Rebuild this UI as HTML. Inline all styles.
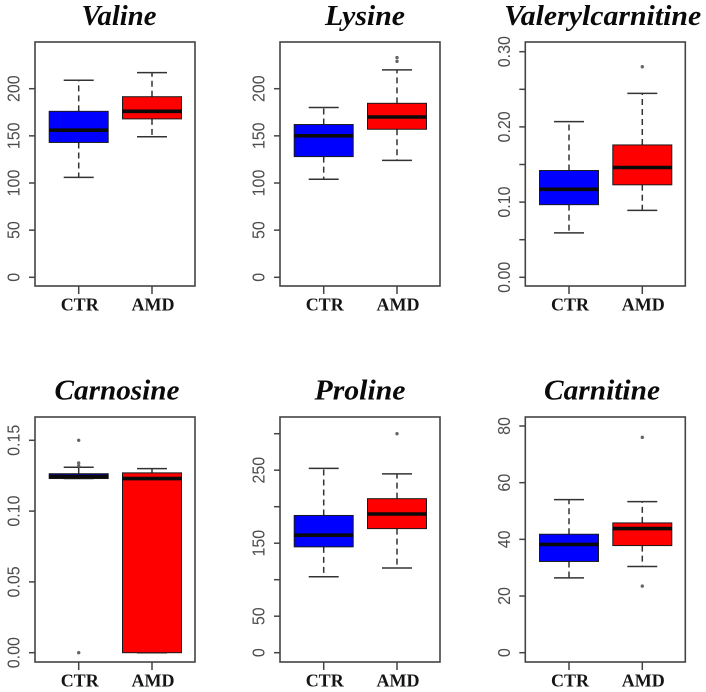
<!DOCTYPE html>
<html lang="en">
<head>
<meta charset="utf-8">
<title>Metabolite boxplots</title>
<style>
html,body{margin:0;padding:0;background:#fff;width:706px;height:692px;overflow:hidden}
svg{display:block;filter:blur(0.35px)}
.tick-label{font:16px "Liberation Sans",sans-serif;fill:#4d4d4d}
.cat-label{font:bold 18px "Liberation Serif",serif;fill:#151515;text-anchor:middle}
.title{font:italic bold 28px "Liberation Serif",serif;fill:#0a0a0a;text-anchor:middle}
</style>
</head>
<body>
<svg id="chart" xmlns="http://www.w3.org/2000/svg" width="706" height="692" viewBox="0 0 706 692"></svg>
<script>
// ---- data: [lower whisker, Q1, median, Q3, upper whisker] ----
const categories = ['CTR', 'AMD'];
const metabolites = ['Valine', 'Lysine', 'Valerylcarnitine', 'Carnosine', 'Proline', 'Carnitine'];

const valineCTR = [106, 143, 156, 176, 209];
const valineAMD = [149, 168, 176, 191.5, 217];
const lysineCTR = [104, 128, 150, 162, 180];
const lysineAMD = [124, 157, 170, 184.5, 220];
const valerylCTR = [0.059, 0.0966, 0.117, 0.142, 0.207];
const valerylAMD = [0.089, 0.123, 0.146, 0.176, 0.2446];
const carnosineCTR = [0.123, 0.123, 0.1245, 0.1264, 0.131];
const carnosineAMD = [0, 0, 0.123, 0.127, 0.130];
const prolineCTR = [104, 145, 161, 188, 252.5];
const prolineAMD = [116, 170, 190, 211, 245];
const carnitineCTR = [26.4, 32.2, 38.2, 41.8, 54];
const carnitineAMD = [30.4, 37.8, 43.8, 45.8, 53.3];

const valineOutliers = [[], []];
const lysineOutliers = [[], [229, 233]];
const valerylOutliers = [[], [0.28]];
const carnosineOutliers = [[0, 0.132, 0.134, 0.15], []];
const prolineOutliers = [[], [300]];
const carnitineOutliers = [[], [23.5, 76]];

const valineTicks = [0, 50, 100, 150, 200];
const lysineTicks = [0, 50, 100, 150, 200];
const valerylTicks = [0, 0.05, 0.10, 0.15, 0.20, 0.25, 0.30];
const carnosineTicks = [0, 0.05, 0.10, 0.15];
const prolineTicks = [0, 50, 100, 150, 200, 250, 300];
const carnitineTicks = [0, 20, 40, 60, 80];

const valineTickLabels = ['0', '50', '100', '150', '200'];
const lysineTickLabels = ['0', '50', '100', '150', '200'];
const valerylTickLabels = ['0.00', '', '0.10', '', '0.20', '', '0.30'];
const carnosineTickLabels = ['0.00', '0.05', '0.10', '0.15'];
const prolineTickLabels = ['0', '50', '', '150', '', '250', ''];
const carnitineTickLabels = ['0', '20', '40', '60', '80'];

const seriesByPanel = [
  [valineCTR, valineAMD], [lysineCTR, lysineAMD], [valerylCTR, valerylAMD],
  [carnosineCTR, carnosineAMD], [prolineCTR, prolineAMD], [carnitineCTR, carnitineAMD]
];
const outliersByPanel = [valineOutliers, lysineOutliers, valerylOutliers, carnosineOutliers, prolineOutliers, carnitineOutliers];
const ticksByPanel = [valineTicks, lysineTicks, valerylTicks, carnosineTicks, prolineTicks, carnitineTicks];
const tickLabelsByPanel = [valineTickLabels, lysineTickLabels, valerylTickLabels, carnosineTickLabels, prolineTickLabels, carnitineTickLabels];

// ---- layout (pixel geometry, separate from the data) ----
const frameX = [35, 280, 525.3, 35, 280, 525.3];
const frameTop = [42, 42, 42, 417, 417, 417];
const frameBottom = [286, 286, 286, 662, 662, 662];
const zeroY = [277.3, 277.3, 277.3, 652.7, 652.7, 652.7];
const axisTopValue = [200, 200, 0.30, 0.15, 300, 80];
const axisTopY = [88.7, 88.7, 51.7, 440.3, 433.7, 426];
const titleCenter = [119, 365, 602.7, 117, 360, 602];
const titleWidth = [75, 80, 197, 125, 91, 116];
const titleBaseline = [25, 25, 25, 399.3, 399.3, 399.3];
const frameW = 160;

const svg = document.getElementById('chart');
const NS = 'http://www.w3.org/2000/svg';

function make(tag, attrs, parent, text) {
  const el = document.createElementNS(NS, tag);
  for (const k in attrs) el.setAttribute(k, attrs[k]);
  if (text !== undefined) el.textContent = text;
  parent.appendChild(el);
  return el;
}
function yScale(p) {
  const k = (zeroY[p] - axisTopY[p]) / axisTopValue[p];
  return v => zeroY[p] - v * k;
}
function xScale(p) {
  return i => frameX[p] + 43.7 + i * 73.3;
}

metabolites.forEach((name, p) => {
  const y = yScale(p);
  const x = xScale(p);
  const slug = name.toLowerCase();

  const g = make('g', {}, svg);
  
  

  const title = make('text', {
    class: 'title', x: titleCenter[p], y: titleBaseline[p],
    textLength: titleWidth[p], lengthAdjust: 'spacingAndGlyphs'
  }, g, name);
  
  

  seriesByPanel[p].forEach((s, i) => {
    const cx = x(i);
    const fill = i === 0 ? '#0000ff' : '#ff0000';
    const group = categories[i].toLowerCase();

    const upper = make('line', { x1: cx, x2: cx, y1: y(s[3]), y2: y(s[4]), stroke: '#333', 'stroke-width': 1.5, 'stroke-dasharray': '6 4' }, g);
    
    

    const lower = make('line', { x1: cx, x2: cx, y1: y(s[1]), y2: y(s[0]), stroke: '#333', 'stroke-width': 1.5, 'stroke-dasharray': '6 4' }, g);
    
    

    const capTop = make('line', { x1: cx - 15, x2: cx + 15, y1: y(s[4]), y2: y(s[4]), stroke: '#333', 'stroke-width': 1.5 }, g);
    
    

    const capBottom = make('line', { x1: cx - 15, x2: cx + 15, y1: y(s[0]), y2: y(s[0]), stroke: '#333', 'stroke-width': 1.5 }, g);
    
    

    const box = make('rect', { x: cx - 29.5, width: 59, y: y(s[3]), height: y(s[1]) - y(s[3]), fill: fill, stroke: '#1a1a1a', 'stroke-width': 1 }, g);
    
    

    const median = make('line', { x1: cx - 29.5, x2: cx + 29.5, y1: y(s[2]), y2: y(s[2]), stroke: '#0a0a0a', 'stroke-width': 3.6 }, g);
    
    

    outliersByPanel[p][i].forEach(v => {
      const dot = make('circle', { cx: cx, cy: y(v), r: 1.7, fill: '#666' }, g);
      
      
    });

    const xTick = make('line', { x1: cx, x2: cx, y1: frameBottom[p], y2: frameBottom[p] + 8, stroke: '#444', 'stroke-width': 1.5 }, g);
    
    

    const cat = make('text', { class: 'cat-label', x: cx + 1, y: frameBottom[p] + 24.5 }, g, categories[i]);
    
    
  });

  const frame = make('rect', { x: frameX[p], y: frameTop[p], width: frameW, height: frameBottom[p] - frameTop[p], fill: 'none', stroke: '#444', 'stroke-width': 1.6 }, g);
  
  

  ticksByPanel[p].forEach((t, i) => {
    const ty = y(t);
    const tick = make('line', { x1: frameX[p] - 6, x2: frameX[p], y1: ty, y2: ty, stroke: '#444', 'stroke-width': 1.5 }, g);
    
    

    const label = tickLabelsByPanel[p][i];
    if (label) {
      const bx = frameX[p] - 15.5;
      const lab = make('text', { class: 'tick-label', 'text-anchor': 'middle', transform: 'translate(' + bx + ',' + ty + ') rotate(-90) scale(1,1.1)' }, g, label);
      
      
    }
  });
});
</script>
</body>
</html>
